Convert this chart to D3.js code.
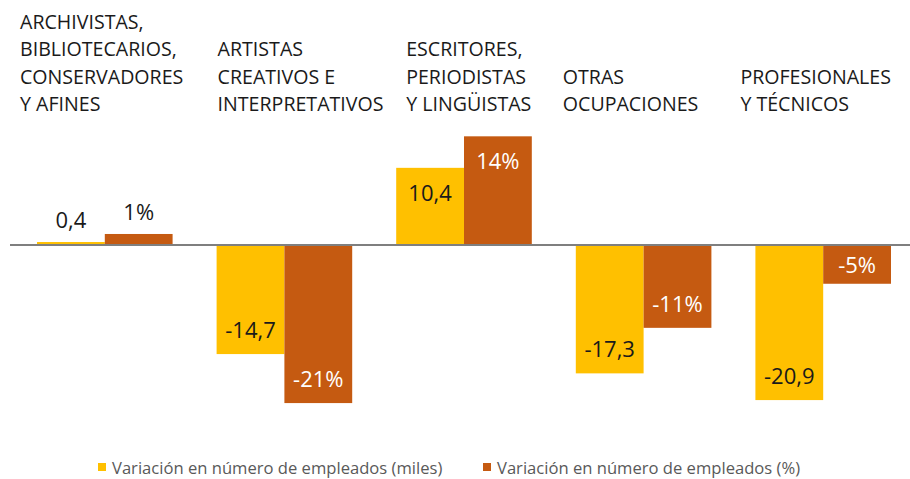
<!DOCTYPE html>
<html>
<head>
<meta charset="utf-8">
<script src="https://cdn.jsdelivr.net/npm/d3@7"></script>
<style>
  html, body { margin: 0; padding: 0; background: #fff; }
  svg { display: block; font-family: "Open Sans", sans-serif; }
</style>
</head>
<body>
<div id="chart"></div>
<script>
// datos
const categories = [
  'ARCHIVISTAS,\nBIBLIOTECARIOS,\nCONSERVADORES\nY AFINES',
  'ARTISTAS\nCREATIVOS E\nINTERPRETATIVOS',
  'ESCRITORES,\nPERIODISTAS\nY LINGÜISTAS',
  'OTRAS\nOCUPACIONES',
  'PROFESIONALES\nY TÉCNICOS'
];
const seriesNames = [
  'Variación en número de empleados (miles)',
  'Variación en número de empleados (%)'
];
const empleadosMiles = [0.4, -14.7, 10.4, -17.3, -20.9];
const empleadosPct = [1.45, -20.8, 14.3, -10.9, -5.1];

// estilo
const width = 910, height = 479;
const colors = ['#FFC000', '#C55A11'];
const zeroY = 245;
// desplazamiento manual de las etiquetas de categoria (como en el original)
const labelDx = [-17, 1, 10, -13, -15];

const locale = d3.formatLocale({ decimal: ',', thousands: '.', grouping: [3], currency: ['', '€'], minus: '-' });
const fmtMiles = locale.format('.1f');
const fmtPct = v => locale.format('.0f')(v) + '%';

const svg = d3.select('#chart').append('svg')
  .attr('width', width).attr('height', height);

const x0 = d3.scaleBand().domain(categories).range([15, 913])
  .paddingInner(0.245).paddingOuter(0.1225);
const x1 = d3.scaleBand().domain([0, 1]).range([0, x0.bandwidth()]);

// dos escalas: la serie de % va en un eje secundario
const yMiles = d3.scaleLinear().domain([-25, 15]).range([zeroY + 25 * 7.42, zeroY - 15 * 7.42]);
const yPct = d3.scaleLinear().domain([-25, 15]).range([zeroY + 25 * 7.6, zeroY - 15 * 7.6]);

const rows = categories.map((c, i) => ({
  cat: c,
  vals: [
    { s: 0, v: empleadosMiles[i], y: yMiles, text: fmtMiles(empleadosMiles[i]) },
    { s: 1, v: empleadosPct[i], y: yPct, text: fmtPct(empleadosPct[i]) }
  ]
}));

const groups = svg.selectAll('g.grupo').data(rows).join('g')
  .attr('class', 'grupo')
  .attr('transform', d => `translate(${x0(d.cat)},0)`);

groups.selectAll('rect').data(d => d.vals).join('rect')
  .attr('x', d => x1(d.s))
  .attr('width', x1.bandwidth())
  .attr('y', d => Math.min(d.y(d.v), d.y(0)))
  .attr('height', d => Math.abs(d.y(d.v) - d.y(0)))
  .attr('fill', d => colors[d.s]);

// etiquetas de datos
groups.selectAll('text.valor').data(d => d.vals).join('text')
  .attr('class', 'valor')
  .attr('x', d => x1(d.s) + x1.bandwidth() / 2)
  .attr('y', d => {
    const h = Math.abs(d.y(d.v) - d.y(0));
    if (h < 20) return d.y(Math.max(d.v, 0)) - 14;
    if (h < 50) return (d.y(d.v) + d.y(0)) / 2 + 9;
    return d.v > 0 ? d.y(d.v) + 33 : d.y(d.v) - 16;
  })
  .attr('text-anchor', 'middle')
  .attr('font-size', 22)
  .attr('fill', d => {
    const h = Math.abs(d.y(d.v) - d.y(0));
    return d.s === 1 && h >= 20 ? '#fff' : '#1a1a1a';
  })
  .text(d => d.text);

// linea del cero
svg.append('line')
  .attr('x1', 10).attr('x2', width)
  .attr('y1', zeroY).attr('y2', zeroY)
  .attr('stroke', '#7f7f7f').attr('stroke-width', 2);

// etiquetas de categoria, alineadas por abajo
const lineH = 27.4;
categories.forEach((c, i) => {
  const lines = c.split('\n');
  const t = svg.append('text')
    .attr('font-size', 19.6)
    .attr('fill', '#1a1a1a');
  lines.forEach((ln, j) => {
    t.append('tspan')
      .attr('x', x0(c) + labelDx[i])
      .attr('y', 111 - (lines.length - 1 - j) * lineH)
      .text(ln);
  });
});

// leyenda
const legendX = [98, 483];
const legend = svg.selectAll('g.leyenda').data(seriesNames).join('g')
  .attr('class', 'leyenda')
  .attr('transform', (d, i) => `translate(${legendX[i]},463)`);
legend.append('rect').attr('width', 8).attr('height', 8)
  .attr('fill', (d, i) => colors[i]);
legend.append('text')
  .attr('x', 14).attr('y', 11)
  .attr('font-size', 16.6)
  .attr('fill', '#595959')
  .text(d => d);
</script>
</body>
</html>
